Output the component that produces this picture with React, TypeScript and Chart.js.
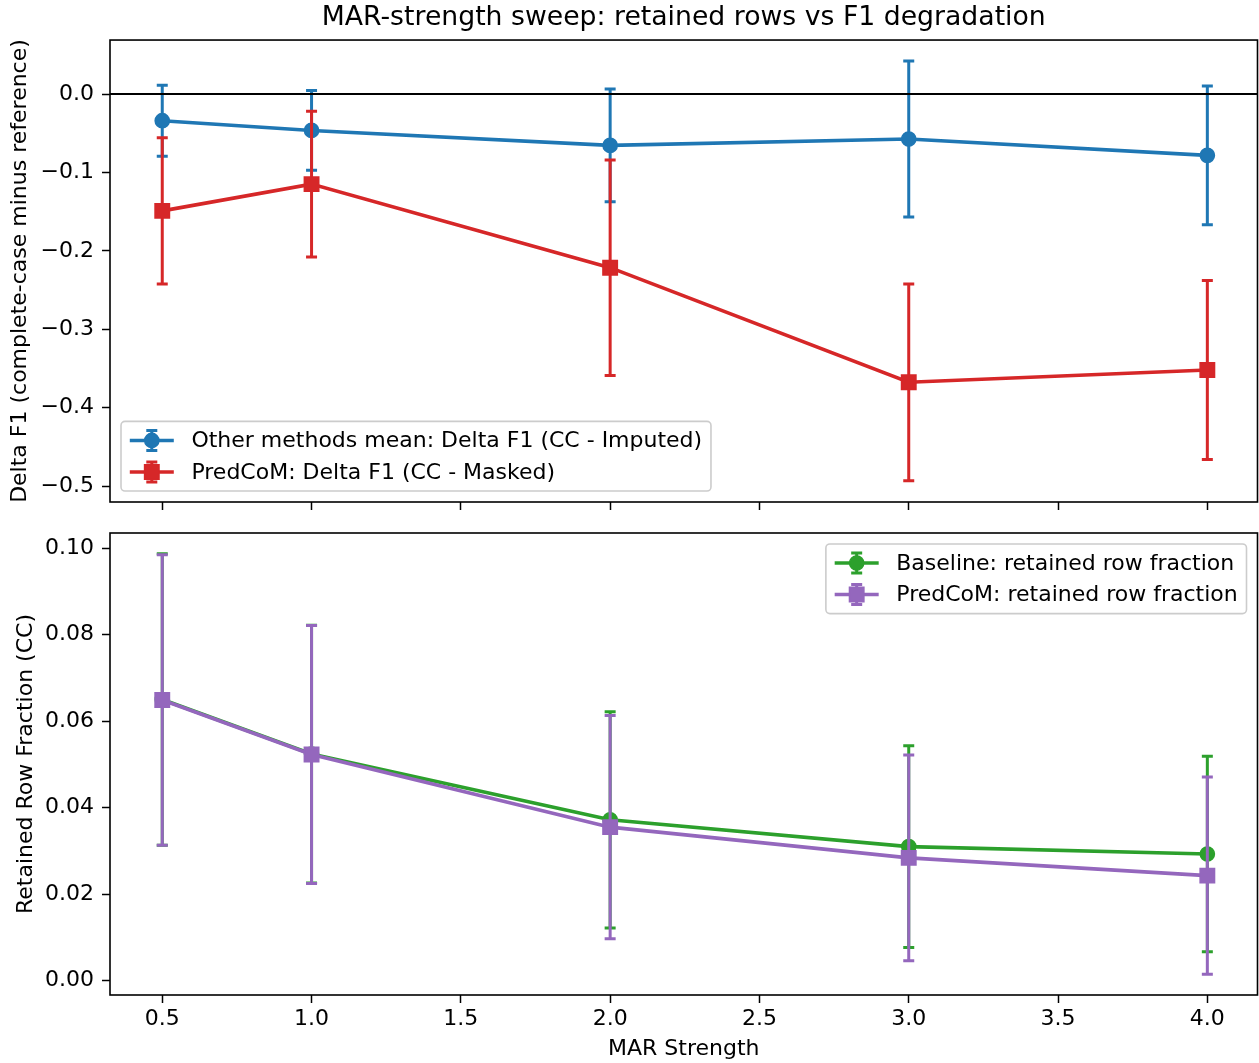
import React, { useEffect, useRef } from "react";
import { Chart, registerables } from "chart.js";

Chart.register(...registerables);

// ---------------- data ----------------
const xValues = [0.5, 1.0, 2.0, 3.0, 4.0];
const xTicks = [0.5, 1.0, 1.5, 2.0, 2.5, 3.0, 3.5, 4.0];
const xTickLabels = ["0.5", "1.0", "1.5", "2.0", "2.5", "3.0", "3.5", "4.0"];

const otherMean = [-0.034, -0.0464, -0.0655, -0.0574, -0.0782];
const otherErr = [0.0452, 0.0508, 0.0718, 0.0995, 0.0885];
const predDeltaMean = [-0.149, -0.1149, -0.2215, -0.3677, -0.352];
const predDeltaErr = [0.0932, 0.0929, 0.1375, 0.1255, 0.1142];

const baselineRetained = [0.065, 0.0524, 0.0372, 0.031, 0.0293];
const baselineRetainedErr = [0.0337, 0.0298, 0.025, 0.0233, 0.0226];
const predRetained = [0.0649, 0.0523, 0.0355, 0.0284, 0.0243];
const predRetainedErr = [0.0336, 0.0298, 0.0258, 0.0238, 0.0228];

const topYTicks = [0, -0.1, -0.2, -0.3, -0.4, -0.5];
const topYTickLabels = ["0.0", "\u22120.1", "\u22120.2", "\u22120.3", "\u22120.4", "\u22120.5"];
const bottomYTicks = [0, 0.02, 0.04, 0.06, 0.08, 0.1];
const bottomYTickLabels = ["0.00", "0.02", "0.04", "0.06", "0.08", "0.10"];

const seriesLabels = [
  "Other methods mean: Delta F1 (CC - Imputed)",
  "PredCoM: Delta F1 (CC - Masked)",
  "Baseline: retained row fraction",
  "PredCoM: retained row fraction",
];

const titleText = "MAR-strength sweep: retained rows vs F1 degradation";
const topYTitle = "Delta F1 (complete-case minus reference)";
const bottomYTitle = "Retained Row Fraction (CC)";
const xTitle = "MAR Strength";

// ---------------- styles ----------------
const BLUE = "#1f77b4";
const RED = "#d62728";
const GREEN = "#2ca02c";
const PURPLE = "#9467bd";
const FONT = "'DejaVu Sans', 'Liberation Sans', sans-serif";
const FS = 22;

const W = 1259;
const TOP_H = 530;
const BOT_TOP = 505;
const BOT_H = 1063 - BOT_TOP;
const CAP = 5.5;

Chart.defaults.font.family = FONT;
Chart.defaults.color = "#000";

function drawMarker(ctx: CanvasRenderingContext2D, style: string, x: number, y: number, r: number, color: string) {
  ctx.save();
  ctx.fillStyle = color;
  ctx.strokeStyle = color;
  ctx.lineWidth = 1.5;
  ctx.beginPath();
  if (style === "rect") {
    const h = r * Math.SQRT1_2;
    ctx.rect(x - h, y - h, 2 * h, 2 * h);
  } else {
    ctx.arc(x, y, r, 0, Math.PI * 2);
  }
  ctx.fill();
  ctx.stroke();
  ctx.restore();
}

function drawErr(ctx: CanvasRenderingContext2D, x: number, top: number, bot: number, color: string) {
  ctx.save();
  ctx.strokeStyle = color;
  ctx.lineWidth = 3;
  ctx.lineCap = "butt";
  ctx.beginPath();
  ctx.moveTo(x, top);
  ctx.lineTo(x, bot);
  ctx.moveTo(x - CAP, top);
  ctx.lineTo(x + CAP, top);
  ctx.moveTo(x - CAP, bot);
  ctx.lineTo(x + CAP, bot);
  ctx.stroke();
  ctx.restore();
}

const errorBarPlugin = {
  id: "errorBars",
  beforeDatasetDraw(chart: any, args: any) {
    const ds = chart.data.datasets[args.index];
    if (!ds.errors) return;
    const xs = chart.scales.x;
    const ys = chart.scales.y;
    const ctx = chart.ctx;
    ds.data.forEach((p: any, i: number) => {
      const px = xs.getPixelForValue(p.x);
      const top = ys.getPixelForValue(p.y + ds.errors[i]);
      const bot = ys.getPixelForValue(p.y - ds.errors[i]);
      drawErr(ctx, px, top, bot, ds.borderColor);
    });
  },
};

const framePlugin = {
  id: "frame",
  afterDatasetsDraw(chart: any, _args: any, opts: any) {
    const ctx = chart.ctx;
    const ca = chart.chartArea;
    ctx.save();
    if (opts && opts.zeroLine) {
      const y0 = chart.scales.y.getPixelForValue(0);
      ctx.strokeStyle = "#000";
      ctx.lineWidth = 2;
      ctx.beginPath();
      ctx.moveTo(ca.left, y0);
      ctx.lineTo(ca.right, y0);
      ctx.stroke();
    }
    ctx.strokeStyle = "#000";
    ctx.lineWidth = 1.6;
    ctx.strokeRect(ca.left, ca.top, ca.right - ca.left, ca.bottom - ca.top);
    ctx.restore();
  },
};

const mplLegendPlugin = {
  id: "mplLegend",
  afterDraw(chart: any, _args: any, opts: any) {
    if (!opts || !opts.loc) return;
    const ctx: CanvasRenderingContext2D = chart.ctx;
    const ca = chart.chartArea;
    const borderpad = 0.4 * FS;
    const handleLen = 2.0 * FS;
    const textPad = 0.8 * FS;
    const axPad = 0.5 * FS;
    const rowH = 20.5;
    const spacing = 0.5 * FS;
    ctx.save();
    ctx.font = `${FS}px ${FONT}`;
    const items = chart.data.datasets.map((ds: any) => ({
      label: ds.label,
      color: ds.borderColor,
      style: ds.pointStyle,
      r: ds.pointRadius,
    }));
    const textW = Math.max(...items.map((it: any) => ctx.measureText(it.label).width));
    const n = items.length;
    const boxW = borderpad * 2 + handleLen + textPad + textW;
    const boxH = borderpad * 2 + rowH * n + spacing * (n - 1);
    let x0: number, y0: number;
    if (opts.loc === "lower left") {
      x0 = ca.left + axPad;
      y0 = ca.bottom - axPad - boxH;
    } else {
      x0 = ca.right - axPad - boxW;
      y0 = ca.top + axPad;
    }
    ctx.beginPath();
    const rr = 4;
    ctx.moveTo(x0 + rr, y0);
    ctx.lineTo(x0 + boxW - rr, y0);
    ctx.arcTo(x0 + boxW, y0, x0 + boxW, y0 + rr, rr);
    ctx.lineTo(x0 + boxW, y0 + boxH - rr);
    ctx.arcTo(x0 + boxW, y0 + boxH, x0 + boxW - rr, y0 + boxH, rr);
    ctx.lineTo(x0 + rr, y0 + boxH);
    ctx.arcTo(x0, y0 + boxH, x0, y0 + boxH - rr, rr);
    ctx.lineTo(x0, y0 + rr);
    ctx.arcTo(x0, y0, x0 + rr, y0, rr);
    ctx.closePath();
    ctx.fillStyle = "rgba(255,255,255,0.8)";
    ctx.fill();
    ctx.strokeStyle = "#cccccc";
    ctx.lineWidth = 1.6;
    ctx.stroke();

    items.forEach((it: any, i: number) => {
      const cy = y0 + borderpad + rowH / 2 + i * (rowH + spacing);
      const hx0 = x0 + borderpad;
      const hx1 = hx0 + handleLen;
      const cx = (hx0 + hx1) / 2;
      ctx.strokeStyle = it.color;
      ctx.lineWidth = 3.6;
      ctx.beginPath();
      ctx.moveTo(hx0, cy);
      ctx.lineTo(hx1, cy);
      ctx.stroke();
      drawErr(ctx, cx, cy - 10, cy + 10, it.color);
      drawMarker(ctx, it.style, cx, cy, it.r, it.color);
      ctx.fillStyle = "#000";
      ctx.textBaseline = "middle";
      ctx.textAlign = "left";
      ctx.fillText(it.label, hx1 + textPad, cy + 1);
    });
    ctx.restore();
  },
};

function makeDataset(label: string, means: number[], errs: number[], color: string, style: string, order: number) {
  const r = style === "rect" ? 10.2 : 7.1;
  return {
    label,
    data: xValues.map((x, i) => ({ x, y: means[i] })),
    errors: errs,
    borderColor: color,
    backgroundColor: color,
    pointBackgroundColor: color,
    pointBorderColor: color,
    borderWidth: 3.6,
    pointStyle: style,
    pointRadius: r,
    pointBorderWidth: 1.5,
    pointHoverRadius: r,
    tension: 0,
    fill: false,
    order,
  };
}

function makeOptions(p: {
  yMin: number;
  yMax: number;
  yTicks: number[];
  yLabels: string[];
  yTitle: string;
  yTitlePad: number;
  xHeight: number;
  showXLabels: boolean;
  legendLoc: string;
  zeroLine: boolean;
  title: boolean;
  padTop: number;
}) {
  return {
    responsive: false,
    animation: false as const,
    events: [] as any[],
    layout: { autoPadding: false, padding: { left: 0, right: 1.5, top: p.padTop, bottom: 0 } },
    plugins: {
      legend: { display: false },
      tooltip: { enabled: false },
      title: p.title
        ? {
            display: true,
            text: titleText,
            fullSize: false,
            color: "#000",
            font: { size: 26.7, weight: "normal" as const, family: FONT, lineHeight: 1.2 },
            padding: { top: 2.5, bottom: 5.5 },
          }
        : { display: false },
      mplLegend: { loc: p.legendLoc },
      frame: { zeroLine: p.zeroLine },
    },
    scales: {
      x: {
        type: "linear" as const,
        min: 0.325,
        max: 4.168,
        afterBuildTicks: (s: any) => {
          s.ticks = xTicks.map((v) => ({ value: v }));
        },
        afterFit: (s: any) => {
          s.height = p.xHeight;
        },
        ticks: {
          display: p.showXLabels,
          autoSkip: false,
          maxRotation: 0,
          padding: 3,
          color: "#000",
          font: { size: FS, family: FONT },
          callback: (_v: any, i: number) => xTickLabels[i],
        },
        grid: {
          drawOnChartArea: false,
          drawTicks: true,
          tickLength: 8,
          tickWidth: 1.5,
          tickColor: "#000",
          color: "#000",
        },
        border: { display: false },
        title: p.showXLabels
          ? {
              display: true,
              text: xTitle,
              color: "#000",
              font: { size: FS, family: FONT, lineHeight: 1.2 },
              padding: { top: 0, bottom: 0.5 },
            }
          : { display: false },
      },
      y: {
        type: "linear" as const,
        min: p.yMin,
        max: p.yMax,
        afterBuildTicks: (s: any) => {
          s.ticks = p.yTicks.map((v) => ({ value: v }));
        },
        afterFit: (s: any) => {
          s.width = 110;
        },
        ticks: {
          autoSkip: false,
          padding: 8,
          color: "#000",
          font: { size: FS, family: FONT },
          callback: (_v: any, i: number) => p.yLabels[i],
        },
        grid: {
          drawOnChartArea: false,
          drawTicks: true,
          tickLength: 8,
          tickWidth: 1.5,
          tickColor: "#000",
          color: "#000",
        },
        border: { display: false },
        title: {
          display: true,
          text: p.yTitle,
          color: "#000",
          font: { size: FS, family: FONT, lineHeight: 1.2 },
          padding: { top: p.yTitlePad, bottom: 0 },
        },
      },
    },
  };
}

export default function App() {
  const topRef = useRef<HTMLCanvasElement | null>(null);
  const botRef = useRef<HTMLCanvasElement | null>(null);

  useEffect(() => {
    document.body.style.margin = "0";
    const plugins = [errorBarPlugin, framePlugin, mplLegendPlugin];
    const top = new Chart(topRef.current as HTMLCanvasElement, {
      type: "line",
      data: {
        datasets: [
          makeDataset(seriesLabels[0], otherMean, otherErr, BLUE, "circle", 1),
          makeDataset(seriesLabels[1], predDeltaMean, predDeltaErr, RED, "rect", 0),
        ] as any,
      },
      options: makeOptions({
        yMin: -0.5204,
        yMax: 0.0689,
        yTicks: topYTicks,
        yLabels: topYTickLabels,
        yTitle: topYTitle,
        yTitlePad: 6.8,
        xHeight: TOP_H - 502,
        showXLabels: false,
        legendLoc: "lower left",
        zeroLine: true,
        title: true,
        padTop: 0,
      }) as any,
      plugins: plugins as any,
    });
    const bot = new Chart(botRef.current as HTMLCanvasElement, {
      type: "line",
      data: {
        datasets: [
          makeDataset(seriesLabels[2], baselineRetained, baselineRetainedErr, GREEN, "circle", 1),
          makeDataset(seriesLabels[3], predRetained, predRetainedErr, PURPLE, "rect", 0),
        ] as any,
      },
      options: makeOptions({
        yMin: -0.0033,
        yMax: 0.1035,
        yTicks: bottomYTicks,
        yLabels: bottomYTickLabels,
        yTitle: bottomYTitle,
        yTitlePad: 12.8,
        xHeight: BOT_H - (995 - BOT_TOP),
        showXLabels: true,
        legendLoc: "upper right",
        zeroLine: false,
        title: false,
        padTop: 533 - BOT_TOP,
      }) as any,
      plugins: plugins as any,
    });
    return () => {
      top.destroy();
      bot.destroy();
    };
  }, []);

  return (
    <div style={{ position: "absolute", left: 0, top: 0, width: W, height: 1063, background: "#fff" }}>
      <canvas
        ref={topRef}
        width={W}
        height={TOP_H}
        style={{ position: "absolute", left: 0, top: 0, width: W, height: TOP_H }}
      />
      <canvas
        ref={botRef}
        width={W}
        height={BOT_H}
        style={{ position: "absolute", left: 0, top: BOT_TOP, width: W, height: BOT_H }}
      />
    </div>
  );
}
